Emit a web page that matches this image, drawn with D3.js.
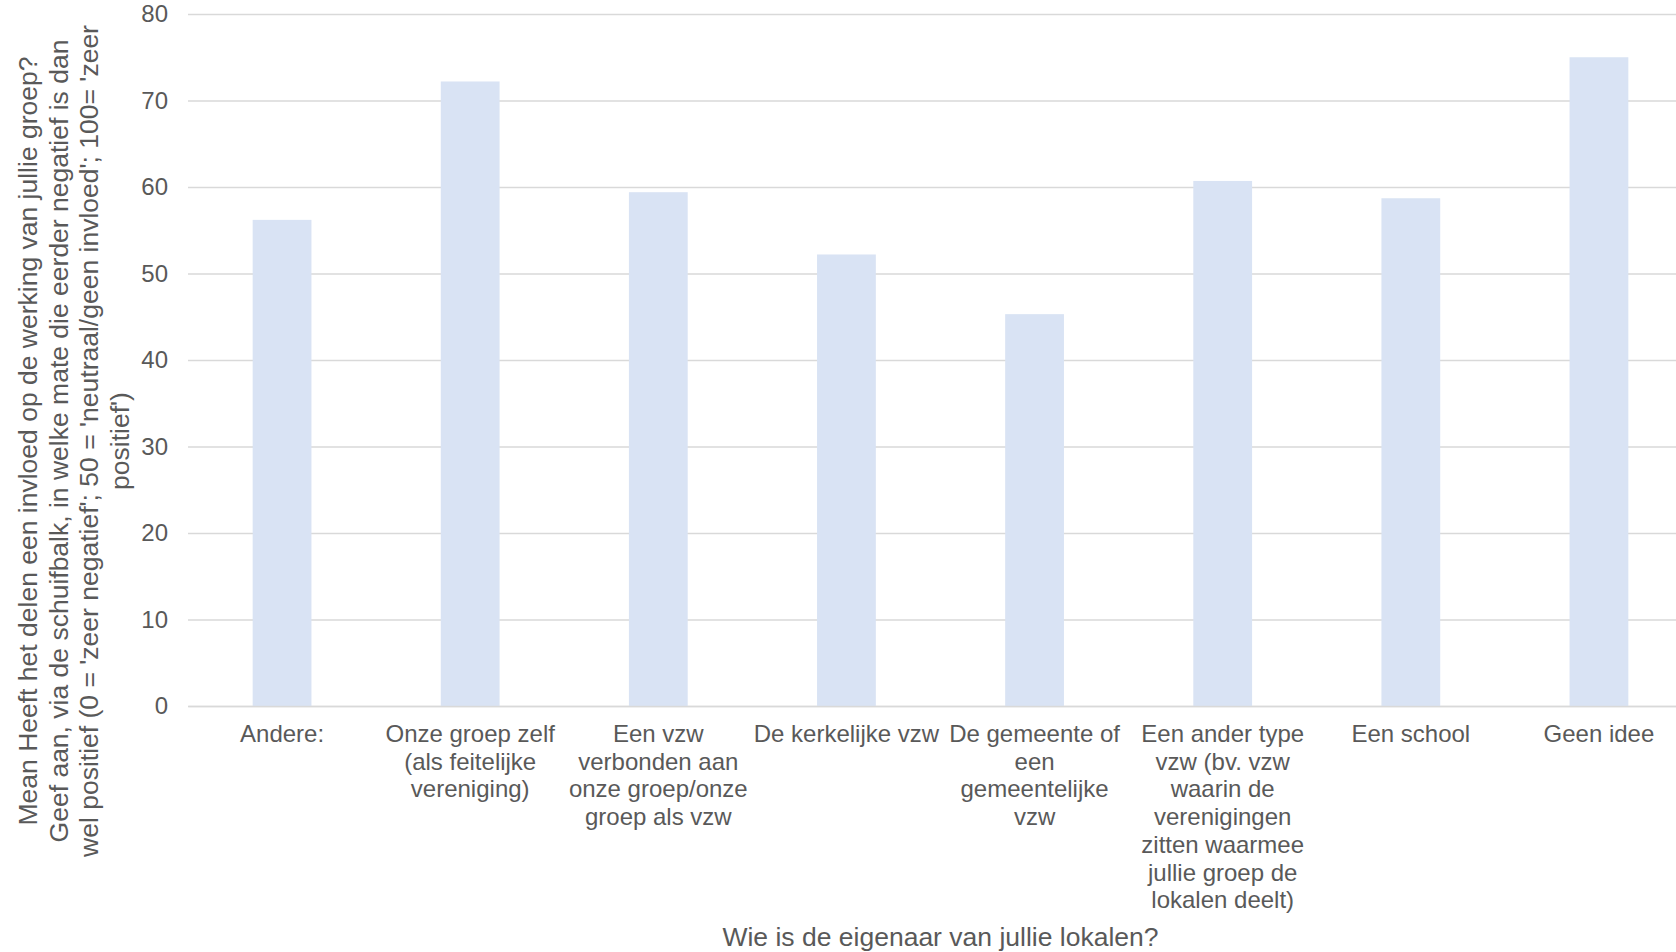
<!DOCTYPE html>
<html>
<head>
<meta charset="utf-8">
<script src="https://cdn.jsdelivr.net/npm/d3@7"></script>
<style>
  html, body { margin: 0; padding: 0; background: #fff; }
  svg { display: block; font-family: "Liberation Sans", Arial, sans-serif; }
</style>
</head>
<body>
<svg id="chart" width="1676" height="952"></svg>
<script>
const categories = [
  "Andere:",
  "Onze groep zelf\n(als feitelijke\nvereniging)",
  "Een vzw\nverbonden aan\nonze groep/onze\ngroep als vzw",
  "De kerkelijke vzw",
  "De gemeente of\neen\ngemeentelijke\nvzw",
  "Een ander type\nvzw (bv. vzw\nwaarin de\nverenigingen\nzitten waarmee\njullie groep de\nlokalen deelt)",
  "Een school",
  "Geen idee"
];
const values = [56.2, 72.2, 59.4, 52.2, 45.3, 60.7, 58.7, 75.0];
const yTicks = [0, 10, 20, 30, 40, 50, 60, 70, 80];
const xTitle = "Wie is de eigenaar van jullie lokalen?";
const yTitleLines = [
  "Mean Heeft het delen een invloed op de werking van jullie groep?",
  "Geef aan, via de schuifbalk, in welke mate die eerder negatief is dan",
  "wel positief (0 = 'zeer negatief'; 50 = 'neutraal/geen invloed'; 100= 'zeer",
  "positief')"
];

(function () {
const svg = d3.select("#chart");
const pLeft = 188, pRight = 1693, pTop = 14, pBottom = 706;
const FONT = "'Liberation Sans', Arial, sans-serif";

const x = d3.scaleBand().domain(categories).range([pLeft, pRight]).paddingInner(0).paddingOuter(0);
const y = d3.scaleLinear().domain([0, 80]).range([pBottom, pTop]);
const barW = x.bandwidth() * 0.3125;

// gridlines
const yAxis = d3.axisLeft(y).tickValues(yTicks).tickSize(-(pRight - pLeft)).tickPadding(20);
const gy = svg.append("g").attr("transform", `translate(${pLeft},0)`).call(yAxis);
gy.select(".domain").remove();
gy.selectAll(".tick line").attr("stroke", "#d9d9d9").attr("stroke-width", 1.5);
gy.selectAll(".tick text").attr("fill", "#595959").style("font-size", "24px")
  .style("font-family", FONT);

// bars
svg.append("g").selectAll("rect").data(values).join("rect")
  .attr("x", (d, i) => x(categories[i]) + (x.bandwidth() - barW) / 2)
  .attr("width", barW)
  .attr("y", d => y(d))
  .attr("height", d => y(0) - y(d))
  .attr("fill", "#d9e3f4");

// x axis line
const xAxis = d3.axisBottom(x).tickSize(0).tickFormat("");
const gx = svg.append("g").attr("transform", `translate(0,${pBottom})`).call(xAxis);
gx.select(".domain").attr("stroke", "#d9d9d9").attr("stroke-width", 1.5);

// x labels
const lineH = 27.7;
gx.selectAll(".tick").each(function(d) {
  const t = d3.select(this).append("text")
    .attr("text-anchor", "middle")
    .attr("fill", "#595959")
    .style("font-size", "24px")
    .style("font-family", FONT);
  d.split("\n").forEach((ln, i) => {
    t.append("tspan").attr("x", 0).attr("y", 36 + i * lineH).text(ln);
  });
});

// x title
svg.append("text")
  .attr("x", (pLeft + pRight) / 2)
  .attr("y", 946)
  .attr("text-anchor", "middle")
  .attr("fill", "#595959")
  .style("font-size", "26.5px")
  .style("font-family", FONT)
  .text(xTitle);

// y title
const yt = svg.append("text")
  .attr("transform", "translate(0,441) rotate(-90)")
  .attr("text-anchor", "middle")
  .attr("fill", "#595959")
  .style("font-size", "26.5px")
  .style("font-family", FONT);
yTitleLines.forEach((ln, i) => {
  yt.append("tspan").attr("x", 0).attr("y", 37 + i * 30.7).text(ln);
});
})();
</script>
</body>
</html>
